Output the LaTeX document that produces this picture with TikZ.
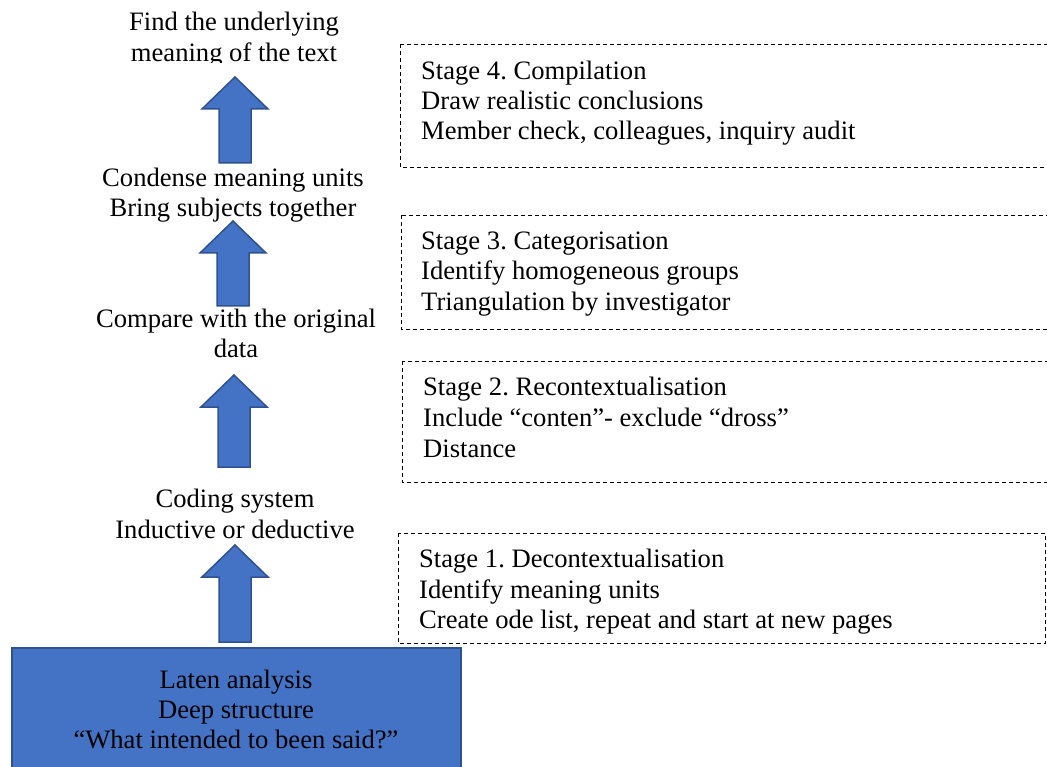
\documentclass[tikz,border=0pt]{standalone}
\usepackage{fontspec}
\setmainfont{Liberation Serif}
\frenchspacing
\definecolor{arrowblue}{HTML}{4472C4}
\definecolor{arrowedge}{HTML}{2F528F}
\tikzset{
  txt/.style={inner sep=0pt, font=\fontsize{26.6}{30.5}\selectfont},
  ctxt/.style={txt, anchor=base},
  ltxt/.style={txt, anchor=base west},
  stagedash/.style={draw=black, line width=0.9pt, dash pattern=on 4pt off 3pt},
  blockarr/.style={fill=arrowblue, draw=arrowedge, line width=1.5pt, line join=miter},
  basebox/.style={fill=arrowblue, draw=arrowedge, line width=1.5pt}
}
\newcommand\blockarrow[5]{% name, cx, tip, base, bottom
  \path[blockarr] (#2,#3) coordinate (#1tip) -- (#2+33,#4) -- (#2+16,#4) -- (#2+16,#5) -- (#2-16,#5) -- (#2-16,#4) -- (#2-33,#4) -- cycle;
}
\begin{document}
\begin{tikzpicture}[x=1pt,y=-1pt]
\useasboundingbox (0,0) rectangle (1047,767);
\clip (0,0) rectangle (1047,767);

% left column texts
\node[ctxt] (t1a) at (234,31) {Find the underlying};
\begin{scope}
  \clip (0,0) rectangle (1047,62.5);
  \node[ctxt] (t1b) at (234,62) {meaning of the text};
\end{scope}
\node[ctxt] (t2a) at (233,187) {Condense meaning units};
\node[ctxt] (t2b) at (233,217) {Bring subjects together};
\node[ctxt] (t3a) at (236,327) {Compare with the original};
\node[ctxt] (t3b) at (236,357) {data};
\node[ctxt] (t4a) at (235,507) {Coding system};
\node[ctxt] (t4b) at (235,538) {Inductive or deductive};

% block arrows
\blockarrow{a1}{235}{77}{109}{163}
\blockarrow{a2}{233}{221}{253}{306}
\blockarrow{a3}{234}{375}{407}{467}
\blockarrow{a4}{235}{545}{577}{642}

% base box
\path[basebox] (12,648) rectangle (461,790);
\node[ctxt] (b1) at (236,688) {Laten analysis};
\node[ctxt] (b2) at (236,718) {Deep structure};
\node[ctxt] (b3) at (236,748) {``What intended to been said?''};

% stage boxes
\path[stagedash] (400,44) rectangle (1070,167);
\node[ltxt] (s4a) at (421,80) {Stage 4. Compilation};
\node[ltxt] (s4b) at (421,110) {Draw realistic conclusions};
\node[ltxt] (s4c) at (421,140) {Member check, colleagues, inquiry audit};

\path[stagedash] (401,215) rectangle (1070,329);
\node[ltxt] (s3a) at (421,250) {Stage 3. Categorisation};
\node[ltxt] (s3b) at (421,280) {Identify homogeneous groups};
\node[ltxt] (s3c) at (421,311) {Triangulation by investigator};

\path[stagedash] (402,361) rectangle (1070,482);
\node[ltxt] (s2a) at (423,395) {Stage 2. Recontextualisation};
\node[ltxt] (s2b) at (423,426) {Include ``conten''- exclude ``dross''};
\node[ltxt] (s2c) at (423,457) {Distance};

\path[stagedash] (398,533) rectangle (1045.5,643);
\node[ltxt] (s1a) at (419,567) {Stage 1. Decontextualisation};
\node[ltxt] (s1b) at (419,598) {Identify meaning units};
\node[ltxt] (s1c) at (419,628) {Create ode list, repeat and start at new pages};
\end{tikzpicture}
\end{document}
